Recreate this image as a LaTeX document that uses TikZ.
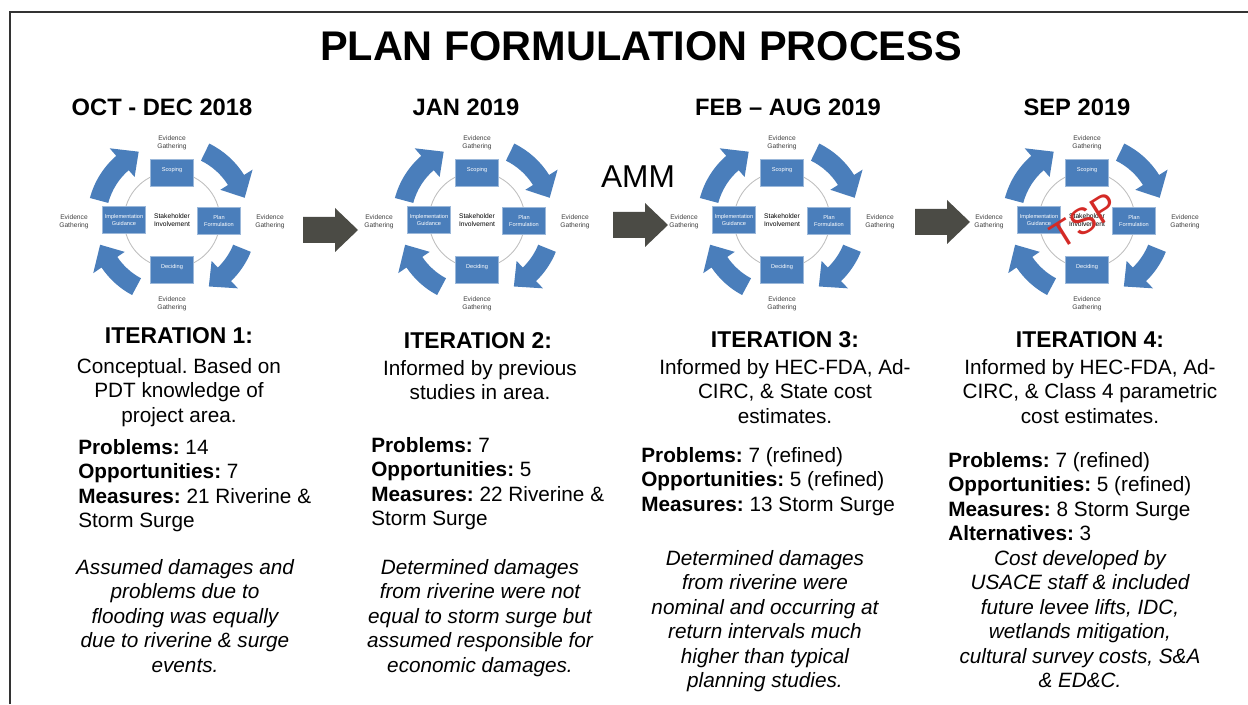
\documentclass[tikz,border=0pt]{standalone}
\usepackage{fontspec}
\setmainfont{Liberation Sans}
\usetikzlibrary{positioning}
\definecolor{cycblue}{HTML}{4A7EBB}
\definecolor{arrowgray}{HTML}{4B4B45}
\definecolor{tspred}{HTML}{D42A26}
\newcommand{\bodyfont}{\fontsize{11.8}{13.9}\selectfont}
\newcommand{\iterfont}{\fontsize{13}{15}\selectfont\bfseries}
\frenchspacing

\tikzset{
  phasebox/.style={fill=cycblue, draw=cycblue!55!white, line width=0.3pt, minimum width=0.86cm, minimum height=0.54cm, inner sep=0.5pt, align=center, text=white, font=\fontsize{3.2}{3.6}\selectfont},
  evtext/.style={align=center, text=black!75, font=\fontsize{3.8}{4.4}\selectfont},
  ringgray/.style={draw=black!25, line width=0.5pt},
  itertitle/.style={font=\iterfont, inner sep=0pt},
  itertext/.style={align=center, font=\bodyfont, inner sep=0pt, anchor=north},
  itercount/.style={align=left, font=\bodyfont, inner sep=0pt, anchor=north west},
  iternote/.style={align=center, font=\bodyfont\itshape, inner sep=0pt, anchor=north},
  datehead/.style={font=\fontsize{13.5}{15}\selectfont\bfseries, inner sep=0pt}
}

\begin{document}
\begin{tikzpicture}[x=0.02cm, y=0.02cm]
	\useasboundingbox (0,0) rectangle (1248,704);
	\draw[line width=0.9pt, black!80] (10,0) -- (10,692) -- (1248,692);

	\node[font=\fontsize{23.6}{26}\selectfont\bfseries] (title) at (641,658) {PLAN FORMULATION PROCESS};

	\node[datehead] (date1) at (162,597) {OCT - DEC 2018};
	\node[datehead] (date2) at (466,597) {JAN 2019};
	\node[datehead] (date3) at (788,597) {FEB -- AUG 2019};
	\node[datehead] (date4) at (1077,597) {SEP 2019};

	% planning cycles
	\foreach \i/\cx in {1/172,2/477,3/782,4/1087}{
		\begin{scope}[shift={(\cx,484)}]
			\draw[ringgray] (0,0) circle[radius=48];
			\foreach \s/\e in {165/116,64/17,-22/-61,-118/-161}
				\fill[cycblue] (\s:85) arc[start angle=\s, end angle=\e+15, radius=85] -- (\e+15:95) -- (\e:76) -- (\e+15:57) -- (\e+15:66) arc[start angle=\e+15, end angle=\s, radius=66] -- cycle;
			\node[phasebox] (scp\i) at (0,47) {Scoping\\[0.5pt]\tiny\phantom{x}};
			\node[phasebox] (plf\i) at (47,-1) {Plan\\Formulation};
			\node[phasebox] (dec\i) at (0,-50) {Deciding\\[0.5pt]\tiny\phantom{x}};
			\node[phasebox] (imp\i) at (-48,0) {Implementation\\Guidance};
			\node[evtext, text=black] (stk\i) at (0,0) {Stakeholder\\Involvement};
			\node[evtext] (evt\i) at (0,77) {Evidence\\Gathering};
			\node[evtext] (evr\i) at (98,-2) {Evidence\\Gathering};
			\node[evtext] (evb\i) at (0,-84) {Evidence\\Gathering};
			\node[evtext] (evl\i) at (-98,-2) {Evidence\\Gathering};
		\end{scope}
	}

	% block arrows between iterations
	\foreach \ax/\ay in {303/474,613/479,915/482}
		\fill[arrowgray] (\ax,\ay+13) -- (\ax+32,\ay+13) -- (\ax+32,\ay+22) -- (\ax+55,\ay) -- (\ax+32,\ay-22) -- (\ax+32,\ay-13) -- (\ax,\ay-13) -- cycle;
	\node[font=\fontsize{18}{20}\selectfont, inner sep=0pt] (amm) at (638,527) {AMM};

	% iteration 1
	\node[itertitle] (it1) at (179,368) {ITERATION 1:};
	\node[itertext] (desc1) at (179,346) {Conceptual. Based on\\PDT knowledge of\\project area.};
	\node[itercount] (cnt1) at (78,265) {\textbf{Problems:} 14\\\textbf{Opportunities:} 7\\\textbf{Measures:} 21 Riverine \&\\Storm Surge};
	\node[iternote] (note1) at (185,145) {Assumed damages and\\problems due to\\flooding was equally\\due to riverine \& surge\\events.};

	% iteration 2
	\node[itertitle] (it2) at (478,363) {ITERATION 2:};
	\node[itertext] (desc2) at (480,344) {Informed by previous\\studies in area.};
	\node[itercount] (cnt2) at (371,267) {\textbf{Problems:} 7\\\textbf{Opportunities:} 5\\\textbf{Measures:} 22 Riverine \&\\Storm Surge};
	\node[iternote] (note2) at (480,145) {Determined damages\\from riverine were not\\equal to storm surge but\\assumed responsible for\\economic damages.};

	% iteration 3
	\node[itertitle] (it3) at (785,364) {ITERATION 3:};
	\node[itertext] (desc3) at (785,345) {Informed by HEC-FDA, Ad-\\CIRC, \& State cost\\estimates.};
	\node[itercount] (cnt3) at (641,257) {\textbf{Problems:} 7 (refined)\\\textbf{Opportunities:} 5 (refined)\\\textbf{Measures:} 13 Storm Surge};
	\node[iternote] (note3) at (765,154) {Determined damages\\from riverine were\\nominal and occurring at\\return intervals much\\higher than typical\\planning studies.};

	% iteration 4
	\node[itertitle] (it4) at (1090,364) {ITERATION 4:};
	\node[itertext] (desc4) at (1090,345) {Informed by HEC-FDA, Ad-\\CIRC, \& Class 4 parametric\\cost estimates.};
	\node[itercount] (cnt4) at (948,252) {\textbf{Problems:} 7 (refined)\\\textbf{Opportunities:} 5 (refined)\\\textbf{Measures:} 8 Storm Surge\\\textbf{Alternatives:} 3};
	\node[iternote] (note4) at (1080,154) {Cost developed by\\USACE staff \& included\\future levee lifts, IDC,\\wetlands mitigation,\\cultural survey costs, S\&A\\\& ED\&C.};

	\node[text=tspred, rotate=32, font=\fontsize{21}{23}\selectfont, inner sep=0pt] (tsp) at (1084,483) {TSP};
\end{tikzpicture}
\end{document}
